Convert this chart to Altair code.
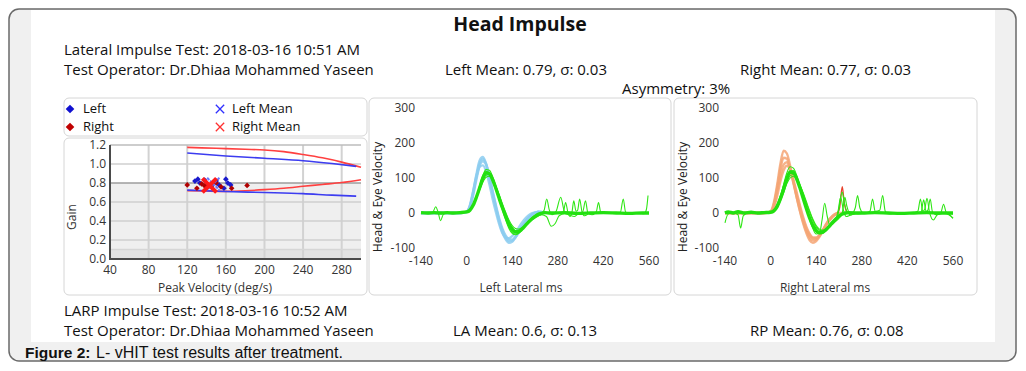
import altair as alt
import pandas as pd

W, H = 1010, 354
FONT = "Open Sans"

# ---------------- data ----------------
GAIN_TICKS_X = [40, 80, 120, 160, 200, 240, 280]
GAIN_TICKS_Y = [0.0, 0.2, 0.4, 0.6, 0.8, 1.0, 1.2]
VEL_TICKS_X = [-140, 0, 140, 280, 420, 560]
VEL_TICKS_Y = [-100, 0, 100, 200, 300]

# normative limit curves (peak velocity deg/s, gain)
RED_UPPER = [(120, 1.175), (150, 1.165), (180, 1.155), (200, 1.148), (220, 1.13), (240, 1.1),
             (260, 1.065), (280, 1.02), (300, 0.965)]
BLUE_UPPER = [(120, 1.115), (160, 1.085), (200, 1.06), (240, 1.035), (270, 1.005), (295, 0.975)]
RED_LOWER = [(120, 0.72), (140, 0.715), (160, 0.712), (180, 0.718), (200, 0.73), (220, 0.745),
             (240, 0.765), (260, 0.785), (280, 0.805), (300, 0.835)]
BLUE_LOWER = [(120, 0.725), (160, 0.71), (200, 0.70), (240, 0.688), (270, 0.672), (295, 0.662)]

LEFT_POINTS = [(128, 0.82), (131, 0.84), (133, 0.80), (138, 0.83), (141, 0.78), (150, 0.82),
               (153, 0.78), (160, 0.84), (162, 0.80), (165, 0.78), (145, 0.76), (158, 0.745)]
RIGHT_POINTS = [(120, 0.78), (130, 0.745), (135, 0.79), (138, 0.77), (140, 0.75), (145, 0.78),
                (150, 0.80), (155, 0.76), (166, 0.745), (182, 0.775)]
LEFT_MEAN = (147, 0.79)
RIGHT_MEAN = (143, 0.775)

# Left lateral impulses: head velocity (ms, deg/s)
L_HEAD = [
    [(-140, 0), (-100, 0), (-60, 0), (-20, 0), (0, 3), (10, 20), (20, 60), (30, 110), (40, 150), (50, 160),
     (60, 140), (70, 100), (80, 55), (90, 15), (100, -25), (110, -55), (120, -75), (130, -85), (140, -82),
     (150, -70), (160, -55), (170, -38), (180, -24), (190, -12), (200, -4), (210, 1), (220, 3), (230, 2), (240, 0)],
    [(-140, 0), (-100, 0), (-60, 0), (-20, 0), (0, 2), (10, 15), (20, 50), (30, 95), (40, 135), (50, 148),
     (60, 138), (70, 105), (80, 62), (90, 22), (100, -15), (110, -45), (120, -65), (130, -75), (140, -76),
     (150, -68), (160, -55), (170, -40), (180, -26), (190, -14), (200, -5), (210, 0), (220, 3), (230, 3), (240, 1)],
    [(-140, 0), (-100, 0), (-60, 0), (-20, 0), (0, 4), (10, 22), (20, 62), (30, 105), (40, 132), (50, 136),
     (60, 118), (70, 82), (80, 40), (90, 2), (100, -32), (110, -58), (120, -70), (130, -72), (140, -66),
     (150, -55), (160, -42), (170, -28), (180, -16), (190, -7), (200, -1), (210, 2), (220, 3), (230, 1), (240, 0)],
    [(-140, 0), (-100, 0), (-60, 0), (-20, 0), (0, 3), (10, 18), (20, 55), (30, 102), (40, 142), (50, 154),
     (60, 140), (70, 104), (80, 60), (90, 18), (100, -20), (110, -50), (120, -70), (130, -80), (140, -79),
     (150, -69), (160, -56), (170, -41), (180, -27), (190, -15), (200, -6), (210, 0), (220, 4), (230, 3), (240, 0)],
]
# Left lateral: eye velocity, thick central trace
L_EYE_CORE = [(-140, 1), (-120, 0), (-100, 1), (-80, 0), (-60, 1), (-40, 0), (-20, 1), (0, 3), (10, 8), (20, 22),
              (30, 45), (40, 72), (50, 100), (60, 115), (70, 112), (80, 95), (90, 70), (100, 42), (110, 15),
              (120, -10), (130, -32), (140, -47), (150, -54), (160, -53), (170, -46), (180, -36), (190, -26),
              (200, -17), (210, -10), (220, -4), (230, -1), (240, 1), (260, 0), (300, 1), (340, -1), (380, 0),
              (420, 1), (460, 0), (500, -1), (540, 0), (560, 0)]
# Left lateral: individual eye traces
L_EYE = [
    [(-140, 0), (-110, 2), (-80, -1), (-50, 1), (-20, 0), (0, 2), (10, 6), (20, 20), (30, 45), (40, 78), (50, 108),
     (60, 124), (70, 122), (80, 104), (90, 76), (100, 45), (110, 14), (120, -15), (130, -40), (140, -55), (150, -60),
     (160, -57), (170, -48), (180, -36), (190, -24), (200, -14), (210, -6), (220, -2), (230, 0), (238, 8), (246, 40),
     (254, 8), (262, -5), (275, 5), (289, 45), (300, 5), (310, -3), (330, 0), (360, 1), (400, 0), (440, -1),
     (480, 0), (520, 1), (560, 0)],
    [(-140, 1), (-100, 0), (-60, -1), (-20, 1), (0, 4), (10, 10), (20, 24), (30, 44), (40, 66), (50, 88), (60, 102),
     (70, 105), (80, 95), (90, 76), (100, 52), (110, 26), (120, 2), (130, -20), (140, -36), (150, -44), (160, -46),
     (170, -42), (180, -35), (190, -26), (200, -18), (210, -11), (220, -6), (230, -2), (240, 0), (260, 1), (290, 0),
     (297, 3), (304, 30), (311, 2), (318, -10), (324, 5), (329, 35), (336, 5), (341, 8), (347, 40), (354, 5),
     (362, -8), (380, 0), (420, 1), (460, -1), (500, 0), (560, 1)],
    [(-140, 0), (-120, 1), (-105, 0), (-95, 18), (-88, 4), (-80, -22), (-72, -5), (-60, 1), (-30, 0), (0, 3),
     (10, 9), (20, 24), (30, 48), (40, 76), (50, 103), (60, 117), (70, 114), (80, 96), (90, 68), (100, 38),
     (110, 8), (120, -20), (130, -44), (140, -58), (150, -62), (160, -58), (170, -48), (180, -37), (190, -26),
     (200, -16), (210, -8), (220, -3), (230, 0), (260, -2), (300, 0), (340, 1), (356, 2), (365, 35), (372, 2),
     (385, -5), (398, 3), (405, 30), (412, 2), (440, 0), (472, 2), (481, 40), (488, 3), (500, -2), (530, 0),
     (560, 1)],
    [(-140, 0), (-100, 1), (-60, 0), (-20, 0), (0, 2), (10, 7), (20, 20), (30, 42), (40, 68), (50, 92), (60, 108),
     (70, 110), (80, 98), (90, 76), (100, 50), (110, 22), (120, -4), (130, -26), (140, -42), (150, -50), (160, -50),
     (170, -45), (180, -37), (190, -28), (200, -20), (210, -14), (220, -9), (230, -5), (245, -10), (260, -38),
     (272, -30), (284, -8), (300, -2), (330, -10), (345, -2), (380, 0), (420, -1), (460, 0), (500, 1), (530, 0),
     (545, -2), (552, 10), (557, 50)],
]

# Right lateral impulses: head velocity
R_HEAD = [
    [(-140, 0), (-100, 0), (-60, 0), (-20, 0), (0, 5), (10, 30), (20, 80), (30, 140), (40, 178), (50, 170),
     (60, 135), (70, 90), (80, 45), (90, 5), (100, -30), (110, -58), (120, -78), (130, -85), (140, -80),
     (150, -68), (160, -52), (170, -35), (180, -20), (190, -10), (200, -3), (210, 0), (220, 0)],
    [(-140, 0), (-100, 0), (-60, 0), (-20, 0), (0, 4), (10, 25), (20, 70), (30, 125), (40, 158), (50, 155),
     (60, 125), (70, 85), (80, 45), (90, 8), (100, -25), (110, -52), (120, -70), (130, -78), (140, -75),
     (150, -65), (160, -50), (170, -34), (180, -20), (190, -10), (200, -3), (210, 0)],
    [(-140, 0), (-100, 0), (-60, 0), (-20, 0), (0, 3), (10, 20), (20, 60), (30, 105), (40, 138), (50, 145),
     (60, 125), (70, 90), (80, 52), (90, 15), (100, -18), (110, -45), (120, -63), (130, -72), (140, -72),
     (150, -64), (160, -50), (170, -35), (180, -22), (190, -11), (200, -4), (210, 0)],
    [(-140, 0), (-100, 0), (-60, 0), (-20, 0), (0, 2), (10, 15), (20, 48), (30, 90), (40, 122), (50, 135),
     (60, 125), (70, 95), (80, 60), (90, 22), (100, -12), (110, -40), (120, -60), (130, -70), (140, -70),
     (150, -62), (160, -48), (170, -32), (180, -18), (190, -8), (200, -2), (210, 0)],
]
R_HEAD_SPIKE = [(205, 0), (212, 15), (220, 75), (226, 30), (234, 0)]
R_EYE_CORE = [(-140, 0), (-130, 3), (-115, 0), (-100, 4), (-80, 0), (-60, 2), (-40, 0), (-20, 1), (0, 2), (10, 6),
              (20, 18), (30, 40), (40, 68), (50, 98), (60, 117), (70, 115), (80, 98), (90, 72), (100, 42),
              (110, 12), (120, -15), (130, -36), (140, -50), (150, -56), (160, -55), (170, -48), (180, -38),
              (190, -27), (200, -17), (210, -9), (220, -3), (230, 0), (240, 1), (280, 0), (320, 1), (360, 0),
              (400, -1), (440, 0), (480, 1), (520, 0), (560, 0)]
R_EYE = [
    [(-140, 0), (-110, 2), (-80, 0), (-50, 1), (-20, 0), (0, 2), (10, 7), (20, 22), (30, 48), (40, 82), (50, 115),
     (60, 132), (70, 128), (80, 108), (90, 78), (100, 45), (110, 12), (120, -20), (130, -45), (140, -60),
     (150, -58), (158, -20), (166, 28), (174, -10), (182, -35), (190, -32), (200, -22), (210, -12), (220, -5),
     (230, 0), (250, 0), (260, 15), (267, 50), (274, 15), (285, 0), (320, 1), (380, -1), (440, 0), (500, 1),
     (540, -2), (560, -15)],
    [(-140, -28), (-132, -5), (-120, 2), (-90, 0), (-60, 1), (-30, 0), (0, 2), (10, 6), (20, 18), (30, 38),
     (40, 62), (50, 88), (60, 106), (70, 110), (80, 100), (90, 80), (100, 55), (110, 28), (120, 2), (130, -22),
     (140, -40), (150, -49), (160, -51), (170, -47), (180, -39), (190, -30), (200, -20), (208, 0), (214, 40),
     (220, 60), (226, 30), (234, 5), (245, -5), (260, -2), (290, 0), (305, 5), (313, 40), (321, 5), (335, 8),
     (344, 50), (352, 5), (365, -3), (400, 0), (450, -1), (500, 0), (560, 0)],
    [(-140, 0), (-115, 1), (-100, -5), (-92, -43), (-84, -8), (-70, 0), (-40, 1), (-10, 0), (0, 3), (10, 9),
     (20, 26), (30, 50), (40, 78), (50, 104), (60, 120), (70, 121), (80, 104), (90, 76), (100, 45), (110, 15),
     (120, -14), (130, -38), (140, -54), (150, -60), (160, -58), (170, -50), (180, -40), (190, -30), (200, -18),
     (207, 5), (215, 45), (223, 10), (232, -10), (245, -6), (270, 0), (320, 1), (380, 0), (430, -1), (452, 5),
     (460, 40), (467, 5), (473, 10), (480, 42), (488, 2), (500, -20), (512, -5), (540, 0), (560, -3)],
    [(-140, 1), (-100, 0), (-60, 2), (-20, 0), (0, 1), (10, 5), (20, 15), (30, 34), (40, 58), (50, 84), (60, 100),
     (70, 105), (80, 97), (90, 80), (100, 58), (110, 32), (120, 6), (130, -18), (140, -36), (150, -46),
     (160, -49), (170, -46), (180, -40), (190, -32), (200, -24), (210, -15), (220, 0), (228, 45), (234, 20),
     (242, 0), (260, -3), (300, 0), (340, -1), (400, 0), (440, 1), (462, 3), (470, 38), (477, 5), (483, 8),
     (490, 40), (497, 3), (510, -5), (523, 2), (531, 25), (539, 2), (550, -5), (560, -15)],
]

HEADER = {
    "title": "Head Impulse",
    "lat_test": "Lateral Impulse Test: 2018-03-16 10:51 AM",
    "operator": "Test Operator: Dr.Dhiaa Mohammed Yaseen",
    "left_mean": "Left Mean: 0.79, σ: 0.03",
    "right_mean": "Right Mean: 0.77, σ: 0.03",
    "asym": "Asymmetry: 3%",
    "larp_test": "LARP Impulse Test: 2018-03-16 10:52 AM",
    "la_mean": "LA Mean: 0.6, σ: 0.13",
    "rp_mean": "RP Mean: 0.76, σ: 0.08",
}

# ---------------- scales ----------------
def gx():
    return alt.Scale(domain=[40, 300], range=[102, 353], nice=False, zero=False)

def gy():
    return alt.Scale(domain=[0, 1.2], range=[251, 137], nice=False, zero=False)

def vx(side):
    r = [413, 641] if side == "L" else [717, 945]
    return alt.Scale(domain=[-140, 560], range=r, nice=False, zero=False)

def vy():
    return alt.Scale(domain=[-100, 300], range=[240, 100], nice=False, zero=False)

one = pd.DataFrame({"a": [0]})


def pix_rect(x1, y1, x2, y2, **kw):
    return alt.Chart(one).mark_rect(**kw).encode(
        x=alt.value(x1), x2=alt.value(x2), y=alt.value(y1), y2=alt.value(y2))


def text_at(x, y, s, size=15, weight="normal", align="left", font=FONT, color="#111", angle=0,
            baseline="alphabetic"):
    return alt.Chart(one).mark_text(
        text=s, fontSize=size, fontWeight=weight, align=align, font=font, color=color,
        angle=angle, baseline=baseline).encode(x=alt.value(x), y=alt.value(y))


def lines(traces, xs, ys, color, width, opacity=1.0):
    rows = []
    for i, tr in enumerate(traces):
        for k, (t, v) in enumerate(tr):
            rows.append({"id": i, "k": k, "t": t, "v": v})
    df = pd.DataFrame(rows)
    return alt.Chart(df).mark_line(color=color, strokeWidth=width, opacity=opacity,
                                   interpolate="monotone").encode(
        x=alt.X("t:Q", scale=xs, axis=None),
        y=alt.Y("v:Q", scale=ys, axis=None),
        detail="id:N", order="k:Q")


def pts(pairs, xs, ys, **kw):
    df = pd.DataFrame(pairs, columns=["t", "v"])
    return alt.Chart(df).mark_point(**kw).encode(
        x=alt.X("t:Q", scale=xs, axis=None), y=alt.Y("v:Q", scale=ys, axis=None))


XPATH = "M-1,-1L1,1M1,-1L-1,1"
layers = []

# frame
layers.append(pix_rect(1, 1, 1008, 353, fill="#f0f0f0", stroke="#6a6a6a", strokeWidth=1.5, cornerRadius=10))
layers.append(pix_rect(23, 2, 987, 334, fill="white"))

# panel boxes
for (a, b, c, d) in [(56, 90, 359, 128), (56, 130, 359, 287), (361, 90, 663, 287), (666, 90, 969, 287)]:
    layers.append(pix_rect(a, b, c, d, fill="white", stroke="#d6d6d6", strokeWidth=1, cornerRadius=5))

# header texts
layers.append(text_at(512, 23, HEADER["title"], size=19.5, weight="bold", align="center"))
layers.append(text_at(56, 47, HEADER["lat_test"]))
layers.append(text_at(56, 67, HEADER["operator"]))
layers.append(text_at(437, 67, HEADER["left_mean"]))
layers.append(text_at(732, 67, HEADER["right_mean"]))
layers.append(text_at(614, 86, HEADER["asym"]))
layers.append(text_at(56, 308, HEADER["larp_test"]))
layers.append(text_at(56, 328, HEADER["operator"]))
layers.append(text_at(445, 328, HEADER["la_mean"]))
layers.append(text_at(742, 328, HEADER["rp_mean"]))
layers.append(text_at(17, 350, "Figure 2:", size=15.5, weight="bold", font="Liberation Sans"))
layers.append(text_at(88, 350, "L- vHIT test results after treatment.", size=16, font="Liberation Sans"))

# legend
layers.append(alt.Chart(one).mark_point(shape="diamond", filled=True, color="#1010d0", size=75, opacity=1)
              .encode(x=alt.value(62), y=alt.value(101)))
layers.append(alt.Chart(one).mark_point(shape="diamond", filled=True, color="#c00000", size=75, opacity=1)
              .encode(x=alt.value(62), y=alt.value(119)))
layers.append(alt.Chart(one).mark_point(shape=XPATH, filled=False, color="#3030ff", size=70, strokeWidth=1.3,
                                        opacity=1).encode(x=alt.value(212), y=alt.value(101)))
layers.append(alt.Chart(one).mark_point(shape=XPATH, filled=False, color="#ff3030", size=70, strokeWidth=1.3,
                                        opacity=1).encode(x=alt.value(212), y=alt.value(119)))
layers.append(text_at(75, 101, "Left", size=13, baseline="middle"))
layers.append(text_at(75, 119, "Right", size=13, baseline="middle"))
layers.append(text_at(224, 101, "Left Mean", size=13, baseline="middle"))
layers.append(text_at(224, 119, "Right Mean", size=13, baseline="middle"))

# gain plot background bands
bands = pd.DataFrame({"lo": [0.0, 0.1], "hi": [0.1, 0.8], "c": ["#e2e2e2", "#efefef"]})
layers.append(alt.Chart(bands).mark_rect().encode(
    x=alt.value(102), x2=alt.value(353),
    y=alt.Y("lo:Q", scale=gy(), axis=None), y2="hi:Q",
    color=alt.Color("c:N", scale=None)))
# grid
gridx = pd.DataFrame({"g": [g for g in GAIN_TICKS_X if g > 40]})
layers.append(alt.Chart(gridx).mark_rule(color="#d2d2d2", strokeWidth=2).encode(
    x=alt.X("g:Q", scale=gx(), axis=None), y=alt.value(137), y2=alt.value(251)))
gridy = pd.DataFrame({"g": [g for g in GAIN_TICKS_Y if g > 0] + [0.1],
                      "c": ["#cfcfcf", "#cfcfcf", "#cfcfcf", "#9c9c9c", "#cfcfcf", "#bdbdbd", "#d6d6d6"]})
layers.append(alt.Chart(gridy).mark_rule(strokeWidth=1.5).encode(
    y=alt.Y("g:Q", scale=gy(), axis=None), x=alt.value(102), x2=alt.value(353),
    color=alt.Color("c:N", scale=None)))
# axis lines
layers.append(alt.Chart(one).mark_rule(color="#4a4a4a", strokeWidth=2).encode(
    x=alt.value(102), y=alt.value(137), y2=alt.value(252)))
layers.append(alt.Chart(one).mark_rule(color="#4a4a4a", strokeWidth=2).encode(
    x=alt.value(101), x2=alt.value(353), y=alt.value(251)))
# gain tick labels
layers.append(alt.Chart(pd.DataFrame({"g": GAIN_TICKS_Y, "s": [f"{g:.1f}" for g in GAIN_TICKS_Y]}))
              .mark_text(font=FONT, fontSize=12, align="right", baseline="middle", color="#333")
              .encode(y=alt.Y("g:Q", scale=gy(), axis=None), x=alt.value(98), text="s:N"))
layers.append(alt.Chart(pd.DataFrame({"g": GAIN_TICKS_X, "s": [str(g) for g in GAIN_TICKS_X]}))
              .mark_text(font=FONT, fontSize=12, align="center", baseline="middle", color="#333")
              .encode(x=alt.X("g:Q", scale=gx(), axis=None), y=alt.value(262), text="s:N"))
layers.append(text_at(64, 209, "Gain", size=12, align="center", baseline="middle", angle=270, color="#333"))
layers.append(text_at(207, 280, "Peak Velocity (deg/s)", size=12, align="center", baseline="middle",
                      color="#333"))
# gain curves & points
layers.append(lines([RED_UPPER, RED_LOWER], gx(), gy(), "#ff4040", 1.6))
layers.append(lines([BLUE_UPPER, BLUE_LOWER], gx(), gy(), "#3c3cf0", 1.6))
layers.append(pts(LEFT_POINTS, gx(), gy(), shape="diamond", filled=True, color="#1a1acc", size=32, opacity=1))
layers.append(pts(RIGHT_POINTS, gx(), gy(), shape="diamond", filled=True, color="#b00000", size=32, opacity=1))
layers.append(pts([LEFT_MEAN], gx(), gy(), shape=XPATH, filled=False, color="#5a6cff", size=150,
                  strokeWidth=2, opacity=0.9, strokeDash=[3, 1]))
layers.append(pts([RIGHT_MEAN], gx(), gy(), shape=XPATH, filled=False, color="#ff1a1a", size=200,
                  strokeWidth=4, opacity=1))

# velocity panels
for side, heads, hcol, core, eyes, title, ytx, yx, tx in [
    ("L", L_HEAD, "#8ccdf0", L_EYE_CORE, L_EYE, "Left Lateral ms", 370, 407, 513),
    ("R", R_HEAD, "#f5a474", R_EYE_CORE, R_EYE, "Right Lateral ms", 675, 711, 817),
]:
    layers.append(alt.Chart(pd.DataFrame({"g": VEL_TICKS_Y, "s": [str(g) for g in VEL_TICKS_Y]}))
                  .mark_text(font=FONT, fontSize=12, align="right", baseline="middle", color="#333")
                  .encode(y=alt.Y("g:Q", scale=vy(), axis=None), x=alt.value(yx), text="s:N"))
    layers.append(alt.Chart(pd.DataFrame({"g": VEL_TICKS_X, "s": [str(g) for g in VEL_TICKS_X]}))
                  .mark_text(font=FONT, fontSize=12, align="center", baseline="middle", color="#333")
                  .encode(x=alt.X("g:Q", scale=vx(side), axis=None), y=alt.value(253), text="s:N"))
    layers.append(text_at(ytx, 189, "Head & Eye Velocity", size=12, align="center", baseline="middle",
                          angle=270, color="#222"))
    layers.append(text_at(tx, 280, title, size=12, align="center", baseline="middle", color="#333"))
    layers.append(lines(heads, vx(side), vy(), hcol, 2.4, 0.85))
    if side == "R":
        layers.append(lines([R_HEAD_SPIKE], vx(side), vy(), "#e8402a", 1.3))
    layers.append(lines(eyes, vx(side), vy(), "#2ee614", 1.1))
    layers.append(lines([core], vx(side), vy(), "#22e010", 3.4))

chart = alt.layer(*layers).resolve_scale(x="independent", y="independent").properties(
    width=W, height=H, padding=0, background="white",
    autosize=alt.AutoSizeParams(type="none"),
).configure_view(stroke=None)

chart.save("out.html", embed_options={"renderer": "svg", "actions": False})
